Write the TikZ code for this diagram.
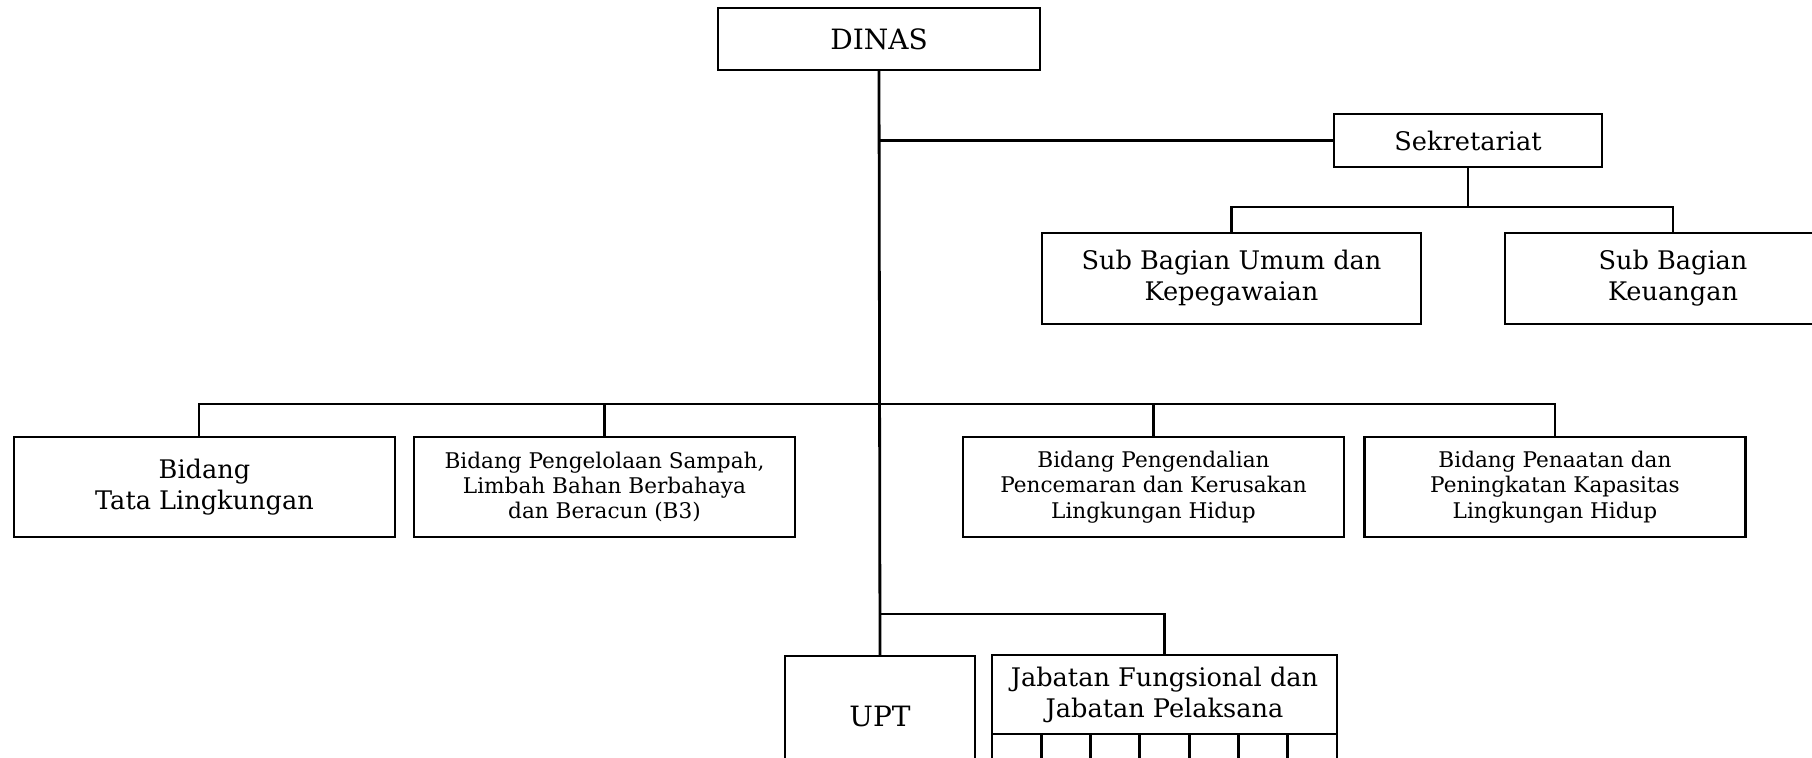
\documentclass[tikz,border=0pt]{standalone}
\usepackage{fontspec}
\setmainfont{DejaVu Serif}
\usetikzlibrary{positioning}

\begin{document}
\begin{tikzpicture}[x=0.5pt,y=-0.5pt]

\tikzstyle{box}=[draw=black, line width=1.4pt, align=center, inner sep=0pt,
  outer sep=0pt, font=\fontsize{12.8}{15.5}\selectfont]
\tikzstyle{smallbox}=[box, font=\fontsize{10.8}{12.6}\selectfont]
\tikzstyle{cell}=[draw=black, line width=1.4pt, inner sep=0pt, outer sep=0pt,
  minimum width=24.64pt, minimum height=14pt]
\tikzstyle{link}=[black, line width=1.4pt]

\useasboundingbox (0,0) rectangle (1812,758);

\node[box, minimum width=161pt, minimum height=31pt,
  font=\fontsize{14}{17}\selectfont] (dinas) at (879,39) {DINAS};
\node[box, minimum width=134pt, minimum height=26.5pt] (sekr) at (1468,140.5) {Sekretariat};
\node[box, minimum width=189.5pt, minimum height=45.5pt] (umum) at (1231.5,278.5)
  {Sub Bagian Umum dan\\Kepegawaian};
\node[box, minimum width=168pt, minimum height=45.5pt] (keu) at (1673,278.5)
  {Sub Bagian\\Keuangan};

\node[box, minimum width=190.5pt, minimum height=50pt] (tata) at (204.5,487)
  {Bidang\\Tata Lingkungan};
\node[smallbox, minimum width=190.5pt, minimum height=50pt] (sampah) at (604.5,487)
  {Bidang Pengelolaan Sampah,\\Limbah Bahan Berbahaya\\dan Beracun (B3)};
\node[smallbox, minimum width=190.5pt, minimum height=50pt] (cemar) at (1153.5,487)
  {Bidang Pengendalian\\Pencemaran dan Kerusakan\\Lingkungan Hidup};
\node[smallbox, minimum width=190.5pt, minimum height=50pt] (taat) at (1555,487)
  {Bidang Penaatan dan\\Peningkatan Kapasitas\\Lingkungan Hidup};

\node[box, minimum width=95pt, minimum height=60pt,
  font=\fontsize{14}{17}\selectfont] (upt) at (880,716) {UPT};
\node[box, minimum width=172.5pt, minimum height=39.5pt] (jab) at (1164.5,694.5)
  {Jabatan Fungsional dan\\Jabatan Pelaksana};
\node[cell, below=0pt of jab.south west, anchor=north west] (cell1) {};
\foreach \i [remember=\i as \j (initially 1)] in {2,...,7}
  \node[cell, right=0pt of cell\j] (cell\i) {};

\coordinate (bidbus) at (879,404);
\coordinate (sekbus) at (1468,207);
\coordinate (lowbus) at (879,614);

\draw[link] (dinas.south) -- (upt.north);
\draw[link] (sekr.west) -- (sekr.west -| dinas.south);
\draw[link] (sekr.south) -- (sekbus);
\draw[link] (umum.north) |- (sekbus) -| (keu.north);
\draw[link] ([xshift=-2.75pt]tata.north) |- (bidbus) -| (taat.north);
\draw[link] (sampah.north) -- (sampah.north |- bidbus);
\draw[link] (cemar.north) -- (cemar.north |- bidbus);
\draw[link] (lowbus) -| (jab.north);
\end{tikzpicture}
\end{document}
